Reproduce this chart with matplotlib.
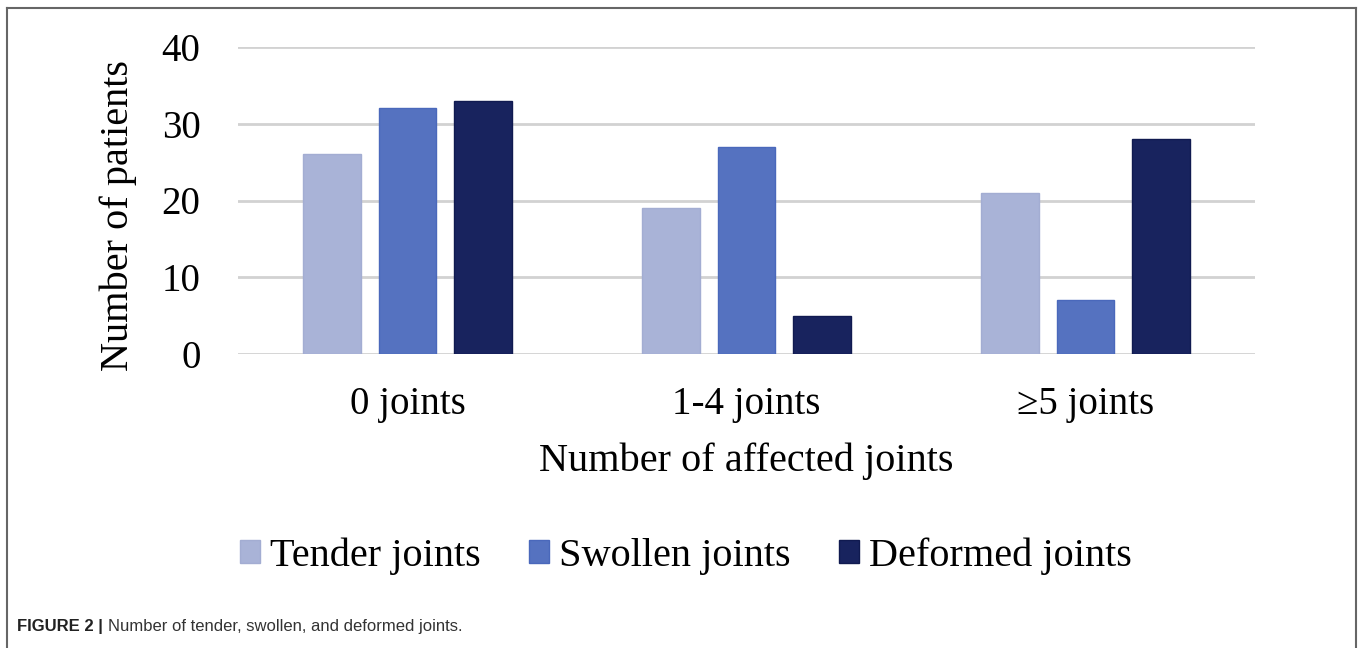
import matplotlib
matplotlib.use("Agg")
import matplotlib.pyplot as plt
import numpy as np
from matplotlib.lines import Line2D
from matplotlib.patches import Patch

categories = ["0 joints", "1-4 joints", "\u22655 joints"]
series_names = ["Tender joints", "Swollen joints", "Deformed joints"]
tender = [26, 19, 21]
swollen = [32, 27, 7]
deformed = [33, 5, 28]
yticks = [0, 10, 20, 30, 40]
colors = ["#a9b3d7", "#5572c0", "#18235e"]
edges = ["#a3add2", "#4a68bb", "#101a50"]

W, H = 1358, 648
fig = plt.figure(figsize=(W / 100, H / 100), dpi=100)
serif = "Liberation Serif"

ax = fig.add_axes([238 / W, (H - 354) / H, (1255 - 238) / W, (354 - 47) / H])
x = np.arange(len(categories))
bw = 0.171
step = 0.222
for i, vals in enumerate([tender, swollen, deformed]):
    ax.bar(x + (i - 1) * step, vals, width=bw, color=colors[i], edgecolor=edges[i],
           linewidth=1, zorder=3, label=series_names[i])

ax.set_xlim(-0.5, len(categories) - 0.5)
ax.set_ylim(0, 40)
ax.set_yticks(yticks)
ax.set_yticklabels([str(v) for v in yticks], fontfamily=serif, fontsize=28)
ax.set_xticks(x)
ax.set_xticklabels(categories, fontfamily=serif, fontsize=28)
ax.tick_params(axis="both", length=0)
ax.tick_params(axis="y", pad=27)
ax.tick_params(axis="x", pad=23)
for s in ax.spines.values():
    s.set_visible(False)
ax.grid(axis="y", color="#d2d2d2", linewidth=2, zorder=0)
ax.set_axisbelow(True)
ax.set_xlabel("Number of affected joints", fontfamily=serif, fontsize=29, labelpad=14)
ax.set_ylabel("Number of patients", fontfamily=serif, fontsize=29)
ax.yaxis.set_label_coords(-0.099, 0.45)

handles = [Patch(facecolor=colors[i], edgecolor=edges[i]) for i in range(3)]
fig.legend(handles, series_names, loc="center", bbox_to_anchor=(686 / W, 1 - 556 / H),
           ncol=3, frameon=False, prop={"family": serif, "size": 29},
           handlelength=0.5, handleheight=0.5, handletextpad=0.25, columnspacing=1.2,
           borderpad=0)

# frame
fc = "#666666"
fig.add_artist(Line2D([7 / W, 7 / W], [0, 1 - 8 / H], color=fc, linewidth=1.5))
fig.add_artist(Line2D([1356 / W, 1356 / W], [0, 1 - 8 / H], color=fc, linewidth=1.5))
fig.add_artist(Line2D([7 / W, 1356 / W], [1 - 8 / H, 1 - 8 / H], color=fc, linewidth=1.5))

cap = fig.text(17 / W, 1 - 627 / H, "FIGURE 2 | ", fontfamily="Liberation Sans",
               fontweight="bold", fontsize=12, va="center", ha="left", color="#222222")
fig.canvas.draw()
bb = cap.get_window_extent()
fig.text(bb.x1 / W, 1 - 627 / H, "Number of tender, swollen, and deformed joints.",
         fontfamily="Liberation Sans", fontsize=12, va="center", ha="left", color="#333333")

fig.savefig("out.png", dpi=100, facecolor="white")
